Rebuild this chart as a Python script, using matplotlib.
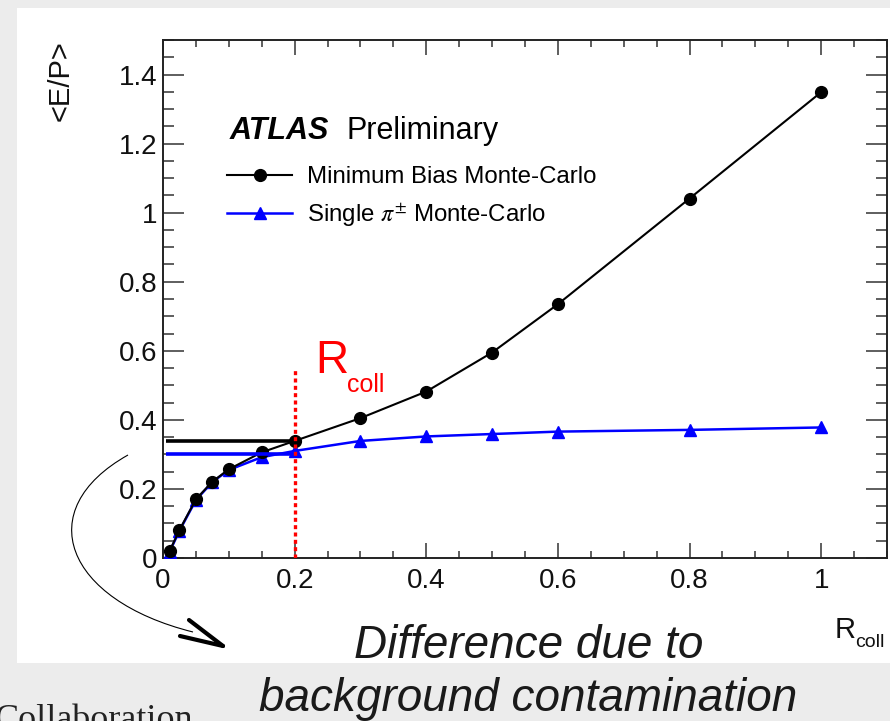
import matplotlib
matplotlib.use("Agg")
import matplotlib.pyplot as plt
from matplotlib.path import Path
from matplotlib.patches import PathPatch, Rectangle
from matplotlib.lines import Line2D
from matplotlib.ticker import MultipleLocator, FuncFormatter

plt.rcParams["font.family"] = ["Liberation Sans", "DejaVu Sans"]
plt.rcParams["mathtext.fontset"] = "stix"

# Cone size R_coll and mean E/P for the two Monte-Carlo samples
r_coll = [0.01, 0.025, 0.05, 0.075, 0.1, 0.15, 0.2, 0.3, 0.4, 0.5, 0.6, 0.8, 1.0]
ep_minbias = [0.020, 0.081, 0.170, 0.221, 0.257, 0.306, 0.339, 0.405, 0.482,
              0.595, 0.735, 1.041, 1.349]
ep_single_pi = [0.018, 0.079, 0.168, 0.220, 0.255, 0.292, 0.310, 0.339, 0.352,
                0.359, 0.366, 0.371, 0.378]

# Chosen cone size and the plateau levels read at it
r_chosen = 0.2
level_minbias = 0.339
level_single_pi = 0.300

x_ticks = [0, 0.2, 0.4, 0.6, 0.8, 1.0]
y_ticks = [0, 0.2, 0.4, 0.6, 0.8, 1.0, 1.2, 1.4]

W, H = 890, 721
fig = plt.figure(figsize=(W / 100, H / 100), dpi=100, facecolor="#ececec")


def fpos(x, y):
    """pixel position (from top-left) -> figure fraction"""
    return x / W, 1 - y / H


# white slide panel
x0, y0 = fpos(17, 663)
fig.add_artist(Rectangle((x0, y0), (W - 17) / W, (663 - 8) / H,
                         transform=fig.transFigure, facecolor="white",
                         edgecolor="none", zorder=0))

ax = fig.add_axes([163 / W, 1 - 558 / H, 724 / W, 518 / H])
ax.set_facecolor("white")
ax.set_xlim(0, 1.1)
ax.set_ylim(0, 1.5)

ax.plot(r_coll, ep_minbias, color="black", lw=1.5, marker="o", ms=8.5,
        zorder=4, label="Minimum Bias Monte-Carlo")
ax.plot(r_coll, ep_single_pi, color="#0000ff", lw=1.8, marker="^", ms=8.5,
        zorder=3, label="Single $\\pi^{\\pm}$ Monte-Carlo")

# plateau levels at the chosen cone size
ax.plot([0.005, r_chosen], [level_minbias, level_minbias], color="black",
        lw=2.6, zorder=5, solid_capstyle="butt")
ax.plot([0.005, r_chosen], [level_single_pi, level_single_pi], color="#0000ff",
        lw=2.6, zorder=5, solid_capstyle="butt")
ax.plot([r_chosen, r_chosen], [0, 0.548], color="red", lw=2.4,
        linestyle=(0, (1.2, 1.0)), zorder=6)

ax.text(0.231, 0.536, "R", color="red", fontsize=33, ha="left", va="baseline")
ax.text(0.279, 0.481, "coll", color="red", fontsize=18, ha="left", va="baseline")

# axes styling
for s in ax.spines.values():
    s.set_linewidth(1.4)
    s.set_color("#222222")
fmt = FuncFormatter(lambda v, p: "%g" % round(v, 3))
ax.set_xticks(x_ticks)
ax.set_yticks(y_ticks)
ax.xaxis.set_major_formatter(fmt)
ax.yaxis.set_major_formatter(fmt)
ax.xaxis.set_minor_locator(MultipleLocator(0.05))
ax.yaxis.set_minor_locator(MultipleLocator(0.05))
ax.tick_params(axis="both", which="both", direction="in", top=True, right=True,
               color="#333333", width=1.1, labelsize=20, labelcolor="#111111")
ax.tick_params(axis="x", which="major", length=11, pad=7)
ax.tick_params(axis="x", which="minor", length=5)
ax.tick_params(axis="y", which="major", length=15, pad=4)
ax.tick_params(axis="y", which="minor", length=8)

# axis titles
ax.text(-0.142, 1.0, "<E/P>", rotation=90, ha="center", va="top",
        fontsize=21, color="#111111", transform=ax.transAxes)
ax.text(0.928, -0.154, "R", fontsize=21, ha="left", va="baseline",
        color="#111111", transform=ax.transAxes)
ax.text(0.956, -0.172, "coll", fontsize=14, ha="left", va="baseline",
        color="#111111", transform=ax.transAxes)

# experiment label
ax.text(0.092, 0.808, "ATLAS", fontsize=22, fontweight="bold", style="italic",
        ha="left", va="baseline", transform=ax.transAxes)
ax.text(0.254, 0.808, "Preliminary", fontsize=22, ha="left", va="baseline",
        transform=ax.transAxes)

ax.legend(loc="upper left", bbox_to_anchor=(0.089, 0.756), frameon=False,
          fontsize=17.3, handlelength=2.7, handletextpad=0.62,
          labelspacing=0.55, borderaxespad=0, borderpad=0)

# curved arrow from the plateau levels down to the note
verts = [fpos(128, 455), fpos(30, 510), fpos(65, 600), fpos(193, 632)]
curve = Path(verts, [Path.MOVETO, Path.CURVE4, Path.CURVE4, Path.CURVE4])
fig.add_artist(PathPatch(curve, transform=fig.transFigure, fill=False,
                         lw=0.8, edgecolor="black", zorder=10))
tip = fpos(223, 646)
for start in (fpos(189, 620), fpos(180, 636)):
    fig.add_artist(Line2D([start[0], tip[0]], [start[1], tip[1]],
                          transform=fig.transFigure, color="black", lw=3.0,
                          solid_capstyle="round", zorder=10))

tx, ty = fpos(529, 658)
fig.text(tx, ty, "Difference due to", fontsize=33, style="italic",
         ha="center", va="baseline", color="#1a1a1a")
tx, ty = fpos(528, 711)
fig.text(tx, ty, "background contamination", fontsize=33, style="italic",
         ha="center", va="baseline", color="#1a1a1a")

tx, ty = fpos(-6, 729)
fig.text(tx, ty, "Collaboration", fontsize=26, family="Liberation Serif",
         ha="left", va="baseline", color="#222222")

fig.savefig("out.png", dpi=100, facecolor=fig.get_facecolor())
